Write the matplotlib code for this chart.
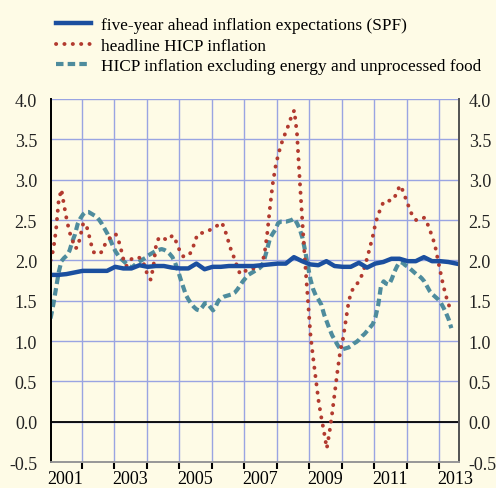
import numpy as np
import matplotlib
matplotlib.use('Agg')
import matplotlib.pyplot as plt
from matplotlib.ticker import MultipleLocator, FixedLocator

# headline HICP inflation, monthly from Jan 2001 (% y-o-y)
headline = [
    2.00, 2.13, 2.37, 2.74, 2.88, 2.68, 2.50, 2.35, 2.26, 2.15, 2.16, 2.30,   # 2001
    2.45, 2.46, 2.34, 2.20, 2.10, 2.08, 2.08, 2.11, 2.19, 2.25, 2.28, 2.30,   # 2002
    2.33, 2.26, 2.14, 2.00, 1.93, 1.98, 2.02, 2.03, 2.04, 2.03, 2.00, 1.90,   # 2003
    1.80, 1.76, 1.93, 2.20, 2.28, 2.29, 2.27, 2.25, 2.27, 2.31, 2.26, 2.18,   # 2004
    2.09, 2.05, 2.05, 2.06, 2.11, 2.20, 2.30, 2.34, 2.34, 2.35, 2.36, 2.38,   # 2005
    2.40, 2.42, 2.44, 2.47, 2.42, 2.31, 2.20, 2.09, 2.02, 1.91, 1.83, 1.85,   # 2006
    1.87, 1.89, 1.90, 1.90, 1.90, 1.92, 1.95, 2.08, 2.33, 2.65, 2.94, 3.15,   # 2007
    3.30, 3.42, 3.52, 3.60, 3.69, 3.79, 3.86, 3.57, 3.00, 2.47, 1.97, 1.52,   # 2008
    1.07, 0.78, 0.51, 0.25, 0.05, -0.13, -0.33, -0.13, 0.11, 0.38, 0.64, 0.88,  # 2009
    1.03, 1.25, 1.47, 1.61, 1.66, 1.70, 1.75, 1.82, 1.92, 2.04, 2.17, 2.30,   # 2010
    2.46, 2.57, 2.65, 2.73, 2.74, 2.74, 2.74, 2.78, 2.85, 2.93, 2.87, 2.78,   # 2011
    2.69, 2.60, 2.53, 2.50, 2.50, 2.51, 2.53, 2.47, 2.38, 2.29, 2.18, 2.01,   # 2012
    1.85, 1.69, 1.56, 1.45, 1.38,                                             # 2013
]

# HICP excluding energy and unprocessed food, monthly from Jan 2001
core = [
    1.28, 1.45, 1.65, 1.85, 1.99, 2.03, 2.06, 2.12, 2.23, 2.32, 2.45, 2.52,   # 2001
    2.57, 2.60, 2.60, 2.58, 2.56, 2.54, 2.50, 2.45, 2.39, 2.33, 2.26, 2.18,   # 2002
    2.11, 2.06, 2.02, 1.99, 1.96, 1.93, 1.91, 1.94, 1.97, 1.99, 2.01, 2.03,   # 2003
    2.06, 2.08, 2.10, 2.12, 2.13, 2.14, 2.13, 2.11, 2.08, 2.04, 1.97, 1.88,   # 2004
    1.77, 1.67, 1.57, 1.51, 1.46, 1.42, 1.39, 1.38, 1.42, 1.47, 1.47, 1.42,   # 2005
    1.38, 1.43, 1.50, 1.53, 1.55, 1.56, 1.57, 1.58, 1.60, 1.64, 1.69, 1.74,   # 2006
    1.78, 1.82, 1.84, 1.86, 1.88, 1.90, 1.93, 2.02, 2.14, 2.27, 2.33, 2.38,   # 2007
    2.46, 2.48, 2.48, 2.48, 2.49, 2.50, 2.52, 2.46, 2.39, 2.28, 2.12, 1.93,   # 2008
    1.76, 1.64, 1.56, 1.51, 1.45, 1.33, 1.24, 1.15, 1.07, 1.01, 0.95, 0.90,   # 2009
    0.90, 0.91, 0.92, 0.94, 0.97, 0.99, 1.02, 1.06, 1.09, 1.13, 1.17, 1.21,   # 2010
    1.30, 1.45, 1.68, 1.74, 1.71, 1.70, 1.77, 1.86, 1.93, 1.98, 1.97, 1.94,   # 2011
    1.92, 1.89, 1.86, 1.83, 1.81, 1.78, 1.74, 1.68, 1.62, 1.58, 1.55, 1.52,   # 2012
    1.48, 1.42, 1.35, 1.27, 1.16,                                             # 2013
]

# five-year ahead inflation expectations (SPF), quarterly from 2001 Q1
spf = [
    1.82, 1.82, 1.83, 1.85, 1.87, 1.87, 1.87, 1.87,   # 2001-2002
    1.92, 1.90, 1.90, 1.94, 1.92, 1.93, 1.93, 1.91,   # 2003-2004
    1.90, 1.90, 1.96, 1.89, 1.92, 1.92, 1.93, 1.93,   # 2005-2006
    1.93, 1.93, 1.94, 1.95, 1.96, 1.96, 2.04, 1.99,   # 2007-2008
    1.95, 1.94, 1.99, 1.93, 1.92, 1.92, 1.97, 1.91,   # 2009-2010
    1.96, 1.98, 2.02, 2.02, 1.99, 1.99, 2.04, 1.99,   # 2011-2012
    1.99, 1.98, 1.96,                                 # 2013
]

years = list(range(2001, 2014))
year_labels = [str(y) if y % 2 else "" for y in years]

BG = "#fefbe6"
GRID = "#99a4e2"
BLUE = "#1b4f9f"
RED = "#b23a2f"
TEAL = "#4e8c9d"

plt.rcParams["font.family"] = ["Liberation Serif", "DejaVu Serif"]
plt.rcParams["font.size"] = 13

t_month = 2001 + (np.arange(len(headline)) + 0.5) / 12
t_core = 2001 + (np.arange(len(core)) + 0.5) / 12
t_q = 2001 + np.arange(len(spf)) / 4 + 0.03

fig = plt.figure(figsize=(4.96, 4.89), dpi=100, facecolor=BG)
ax = fig.add_axes([0.1028, 0.053, 0.8226, 0.7425], facecolor=BG)

ax.plot(t_month, headline, color=RED, lw=2.8, linestyle=(0, (0.05, 2.1)),
        dash_capstyle="round", zorder=4, label="headline HICP inflation")
ax.plot(t_core, core, color=TEAL, lw=3.0, linestyle=(0, (1.8, 1.0)),
        dash_capstyle="butt", zorder=3,
        label="HICP inflation excluding energy and unprocessed food")
ax.plot(t_q, spf, color=BLUE, lw=3.2, solid_joinstyle="round", zorder=5,
        label="five-year ahead inflation expectations (SPF)")

ax.axhline(0, color="black", lw=1.3, zorder=2)

ax.set_xlim(2001.055, 2013.61)
ax.set_ylim(-0.5, 4.0)
ax.yaxis.set_major_locator(MultipleLocator(0.5))
ax.yaxis.set_major_formatter(matplotlib.ticker.FormatStrFormatter("%.1f"))

ax.xaxis.set_major_locator(FixedLocator(years))
ax.xaxis.set_minor_locator(FixedLocator([y + 0.5 for y in years]))
ax.xaxis.set_major_formatter(matplotlib.ticker.NullFormatter())
ax.xaxis.set_minor_formatter(matplotlib.ticker.FixedFormatter(year_labels))
ax.tick_params(axis="x", which="major", length=5, width=1.5, color="black",
               direction="out")
ax.tick_params(axis="x", which="minor", length=0, pad=6, labelsize=13)
ax.tick_params(axis="y", length=0, pad=10, labelsize=13, labelcolor="#222222")

ax.grid(True, which="major", color=GRID, lw=1.0, zorder=1)
ax.set_axisbelow(True)

# right-hand scale (same values)
ax_r = ax.twinx()
ax_r.set_ylim(ax.get_ylim())
ax_r.yaxis.set_major_locator(MultipleLocator(0.5))
ax_r.yaxis.set_major_formatter(matplotlib.ticker.FormatStrFormatter("%.1f"))
ax_r.tick_params(axis="y", length=0, pad=7, labelsize=13, labelcolor="#222222")

for a in (ax, ax_r):
    a.spines["top"].set_visible(False)
    a.spines["left"].set_color("black")
    a.spines["left"].set_linewidth(1.3)
    a.spines["right"].set_color("#555555")
    a.spines["right"].set_linewidth(1.3)
    a.spines["bottom"].set_color("#999999")
    a.spines["bottom"].set_linewidth(1.3)

h, l = ax.get_legend_handles_labels()
order = [2, 0, 1]
fig.legend([h[i] for i in order], [l[i] for i in order],
           loc="upper left", bbox_to_anchor=(0.1, 0.978), frameon=False,
           handlelength=2.0, handletextpad=0.6, labelspacing=0.28,
           borderaxespad=0, fontsize=12.4)

fig.savefig("out.png", dpi=100, facecolor=BG)
